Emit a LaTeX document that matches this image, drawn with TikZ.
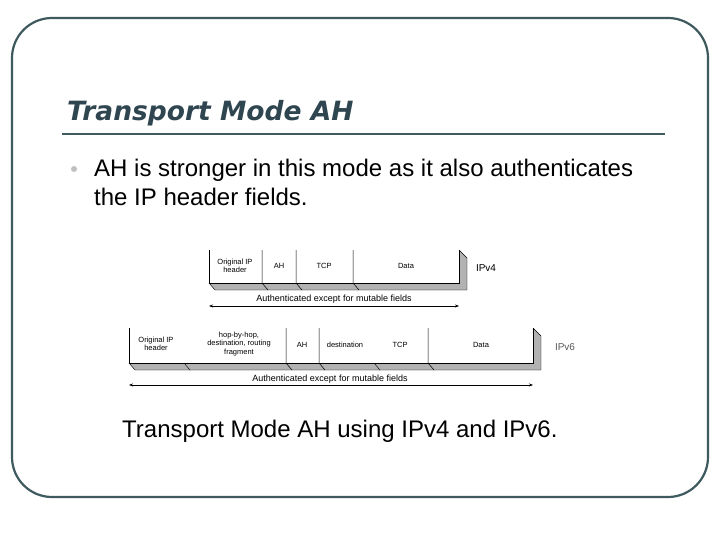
\documentclass[tikz,border=0pt]{standalone}
\usepackage{fontspec}
\setmainfont{Liberation Sans}
\newfontfamily\titlefont{DejaVu Sans}
\usetikzlibrary{arrows.meta}
\definecolor{frame}{HTML}{3E5A5E}
\definecolor{ttl}{HTML}{2F4650}
\begin{document}
\begin{tikzpicture}[x=1pt,y=-1pt,
  small/.style={font=\fontsize{7.5}{8.5}\selectfont,align=center,inner sep=0pt},
  body/.style={anchor=base west,font=\fontsize{24}{29}\selectfont,inner sep=0pt},
  arr/.style={{Stealth[length=4pt]}-{Stealth[length=4pt]},line width=0.6pt}]
\useasboundingbox (0,0) rectangle (720,540);
\draw[frame,line width=2.2pt,rounded corners=40pt] (12,18) rectangle (708,497);
\node[anchor=base west,font=\titlefont\bfseries\itshape\fontsize{26.5}{30}\selectfont,text=ttl,inner sep=0pt] (title) at (67,121) {Transport Mode AH};
\draw[frame,line width=2pt] (62,134) -- (665,134);
\node[circle,fill=gray!50,inner sep=0pt,minimum size=6pt] (bul) at (74,169) {};
\node[body] (txt1) at (94,177) {AH is stronger in this mode as it also authenticates};
\node[body] (txt2) at (94,206) {the IP header fields.};
% IPv4
\fill[gray!60] (459,250) -- (467,258) -- (467,290) -- (215,290) -- (209,283) -- (459,283) -- cycle;
\draw[line width=0.5pt] (209,250) -- (209,283) -- (459,283) -- (459,250);
\draw[line width=0.4pt] (209,283) -- (215,290) -- (467,290) -- (467,258) -- (459,250);
\foreach \x in {262,296,353} \draw[line width=0.5pt] (\x,250) -- (\x,283) (\x,283)--(\x+6,290);
\node[small] (a1) at (235,266) {Original IP\\header};
\node[small] (a2) at (279,266) {AH};
\node[small] (a3) at (324,266) {TCP};
\node[small] (a4) at (406,266) {Data};
\node[font=\fontsize{10}{12}\selectfont,inner sep=0pt] (v4) at (486,268) {IPv4};
\coordinate (l4) at (209,306); \coordinate (r4) at (459,306);
\draw[arr] (l4) -- (r4);
\node[font=\fontsize{9}{11}\selectfont,inner sep=0pt] (t4) at (334,299) {Authenticated except for mutable fields};
% IPv6
\fill[gray!60] (533,328) -- (541,336) -- (541,370) -- (135,370) -- (129,363) -- (533,363) -- cycle;
\draw[line width=0.5pt] (129,328) -- (129,363) -- (533,363) -- (533,328);
\draw[line width=0.4pt] (129,363) -- (135,370) -- (541,370) -- (541,336) -- (533,328);
\foreach \x in {286,319,428} \draw[line width=0.5pt] (\x,328) -- (\x,363) (\x,363)--(\x+6,370);
\foreach \x in {184,374} \draw[line width=0.4pt] (\x,363)--(\x+6,370);
\node[small] (b1) at (156,344) {Original IP\\header};
\node[small] (b2) at (239,344) {hop-by-hop,\\destination, routing\\fragment};
\node[small] (b3) at (302,345) {AH};
\node[small] (b4) at (345,345) {destination};
\node[small] (b5) at (400,345) {TCP};
\node[small] (b6) at (481,345) {Data};
\node[font=\fontsize{10}{12}\selectfont,inner sep=0pt,text=gray!70!black] (v6) at (565,347) {IPv6};
\coordinate (l6) at (129,385); \coordinate (r6) at (533,385);
\draw[arr] (l6) -- (r6);
\node[font=\fontsize{9}{11}\selectfont,inner sep=0pt] (t6) at (330,379) {Authenticated except for mutable fields};
\node[body] (cap) at (122,437) {Transport Mode AH using IPv4 and IPv6.};
\end{tikzpicture}
\end{document}
